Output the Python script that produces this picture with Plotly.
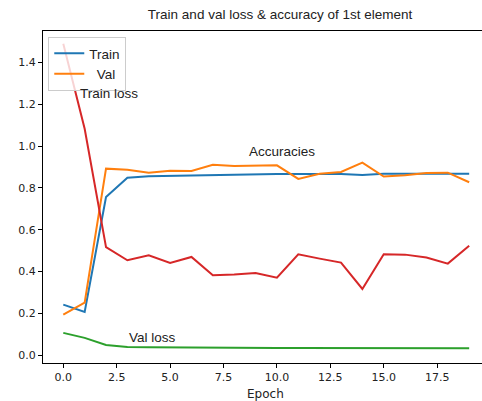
import plotly.graph_objects as go

epochs = list(range(20))
train_acc = [0.242, 0.207, 0.756, 0.849, 0.856, 0.858, 0.861, 0.863, 0.862, 0.864,
             0.866, 0.866, 0.866, 0.867, 0.862, 0.868, 0.868, 0.868, 0.869, 0.868]
val_acc = [0.194, 0.252, 0.892, 0.887, 0.873, 0.882, 0.881, 0.911, 0.905, 0.905,
           0.908, 0.843, 0.868, 0.876, 0.921, 0.854, 0.860, 0.871, 0.873, 0.827]
train_loss = [1.489, 1.083, 0.517, 0.454, 0.478, 0.441, 0.470, 0.382, 0.386, 0.393,
              0.371, 0.483, 0.462, 0.443, 0.317, 0.483, 0.481, 0.467, 0.438, 0.524]
val_loss = [0.107, 0.083, 0.049, 0.040, 0.038, 0.037, 0.037, 0.036, 0.036, 0.036,
            0.035, 0.035, 0.035, 0.035, 0.035, 0.034, 0.034, 0.034, 0.034, 0.033]
x_ticks = [0, 2.5, 5, 7.5, 10, 12.5, 15, 17.5]
x_tick_labels = ["0.0", "2.5", "5.0", "7.5", "10.0", "12.5", "15.0", "17.5"]
y_ticks = [0, 0.2, 0.4, 0.6, 0.8, 1.0, 1.2, 1.4]
y_tick_labels = ["0.0", "0.2", "0.4", "0.6", "0.8", "1.0", "1.2", "1.4"]

fig = go.Figure()
fig.add_trace(go.Scatter(x=epochs, y=train_acc, mode="lines", name="Train",
                         line=dict(color="#1f77b4", width=2)))
fig.add_trace(go.Scatter(x=epochs, y=val_acc, mode="lines", name="\u00a0\u00a0Val",
                         line=dict(color="#ff7f0e", width=2)))
fig.add_trace(go.Scatter(x=epochs, y=train_loss, mode="lines", showlegend=False,
                         line=dict(color="#d62728", width=2)))
fig.add_trace(go.Scatter(x=epochs, y=val_loss, mode="lines", showlegend=False,
                         line=dict(color="#2ca02c", width=2)))

ann_font = dict(family="Liberation Sans, Arial", size=13.5, color="#222")
fig.add_annotation(x=0.67, y=1.252, text="Train loss", showarrow=False,
                   xanchor="left", yanchor="middle", font=ann_font)
fig.add_annotation(x=8.6, y=0.975, text="Accuracies", showarrow=False,
                   xanchor="left", yanchor="middle", font=ann_font)
fig.add_annotation(x=2.98, y=0.083, text="Val loss", showarrow=False,
                   xanchor="left", yanchor="middle", font=ann_font)

tick_font = dict(family="DejaVu Sans", size=11, color="#222")
# x-axis title as paper annotation (plot area spans 43..482 px, 31..363 px)
fig.add_annotation(x=(265 - 43) / 439, y=-(394 - 363) / 332, xref="paper", yref="paper",
                   text="Epoch", showarrow=False, xanchor="center", yanchor="middle",
                   font=dict(family="DejaVu Sans", size=12, color="#222"))

fig.update_layout(
    width=482, height=401,
    margin=dict(l=43, r=0, t=31, b=38),
    paper_bgcolor="white", plot_bgcolor="white",
    title=dict(text="Train and val loss & accuracy of 1st element",
               font=dict(family="Liberation Sans, Arial", size=13.5, color="#222"),
               x=0.54, xref="paper", xanchor="center",
               y=0.965, yref="container", yanchor="middle"),
    legend=dict(x=0.012, y=0.982, xanchor="left", yanchor="top",
                bgcolor="rgba(255,255,255,0.8)", bordercolor="#ccc", borderwidth=1,
                font=dict(family="Liberation Sans, Arial", size=13.5, color="#222"),
                tracegroupgap=0, itemwidth=30),
    xaxis=dict(range=[-0.95, 19.6], tickmode="array", tickvals=x_ticks,
               ticktext=x_tick_labels, showgrid=False, zeroline=False,
               showline=True, linecolor="black", linewidth=1, mirror=True,
               ticks="outside", ticklen=4, tickcolor="black", tickfont=tick_font,
               automargin=False),
    yaxis=dict(range=[-0.037, 1.55], tickmode="array", tickvals=y_ticks,
               ticktext=y_tick_labels, showgrid=False, zeroline=False,
               showline=True, linecolor="black", linewidth=1,
               ticks="outside", ticklen=4, tickcolor="black", tickfont=tick_font,
               automargin=False),
)

fig.write_html("out.html", config={"displayModeBar": False})

# remove the default page margin so the figure sits at the window's top-left corner
with open("out.html", encoding="utf-8") as f:
    html = f.read()
html = html.replace("<body>", '<body style="margin:0;padding:0;overflow:hidden">', 1)
with open("out.html", "w", encoding="utf-8") as f:
    f.write(html)
